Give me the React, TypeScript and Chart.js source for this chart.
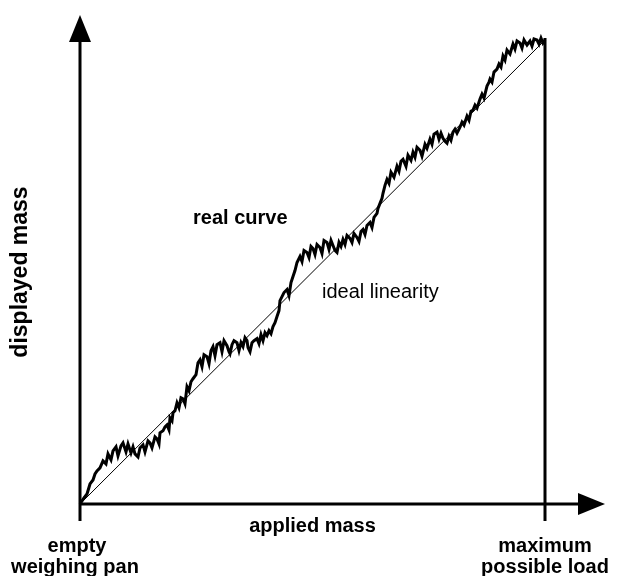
import React, { useEffect, useRef } from "react";
import { Chart, registerables } from "chart.js";

Chart.register(...registerables);

// Applied mass (arbitrary units, 0 = empty pan, 465 = maximum load)
const massApplied = [
  0, 4, 7, 10, 13, 15, 17, 20, 23, 26, 28, 31, 33, 36, 38, 41, 43, 46, 48, 51,
  53, 55, 58, 60, 63, 65, 68, 70, 72, 75, 77, 79, 80, 83, 85, 87, 89, 90, 92, 93,
  95, 97, 99, 101, 103, 105, 107, 109, 111, 113, 116, 118, 120, 122, 124, 127, 129, 131, 133, 135,
  137, 140, 142, 144, 147, 149, 150, 152, 154, 157, 159, 161, 163, 165, 167, 168, 170, 172, 174, 177,
  179, 181, 183, 185, 187, 189, 191, 193, 195, 197, 199, 200, 202, 204, 207, 209, 211, 213, 215, 217,
  220, 222, 224, 227, 229, 231, 233, 235, 237, 240, 242, 244, 247, 249, 251, 253, 255, 257, 259, 261,
  263, 265, 267, 270, 272, 274, 277, 279, 281, 283, 285, 287, 290, 292, 294, 297, 298, 300, 302, 303,
  305, 307, 309, 311, 314, 317, 319, 321, 323, 326, 328, 331, 333, 335, 337, 340, 342, 345, 347, 350,
  352, 354, 357, 359, 361, 363, 365, 367, 369, 371, 373, 375, 377, 380, 382, 384, 387, 389, 391, 393,
  395, 397, 400, 402, 404, 407, 409, 410, 412, 414, 417, 419, 421, 423, 425, 427, 430, 433, 435, 437,
  440, 442, 444, 447, 450, 452, 454, 457, 459, 461, 463, 465,
];

// Displayed mass for the real curve
const massDisplayed = [
  0, 6, 10, 20, 24, 30, 33, 36, 43, 40, 50, 44, 53, 57, 48, 58, 61, 52, 60, 51,
  57, 50, 47, 56, 59, 52, 63, 61, 56, 67, 65, 60, 71, 73, 77, 79, 74, 86, 83, 91,
  93, 101, 96, 106, 105, 100, 117, 113, 122, 125, 129, 141, 144, 137, 149, 147, 140, 153, 157, 148,
  159, 161, 152, 163, 158, 152, 150, 159, 163, 161, 153, 161, 157, 166, 163, 156, 152, 161, 163, 165,
  160, 169, 163, 171, 168, 173, 170, 177, 181, 187, 193, 203, 207, 211, 214, 208, 221, 227, 233, 241,
  247, 242, 253, 251, 246, 257, 255, 249, 259, 256, 250, 263, 261, 254, 263, 258, 253, 251, 261, 257,
  264, 259, 268, 265, 261, 270, 266, 262, 272, 274, 269, 278, 281, 276, 286, 290, 295, 300, 305, 310,
  318, 324, 320, 331, 326, 337, 332, 342, 344, 337, 348, 343, 351, 346, 356, 353, 347, 359, 355, 364,
  359, 369, 371, 364, 370, 365, 362, 360, 367, 363, 371, 374, 370, 376, 381, 378, 387, 383, 392, 393,
  398, 395, 404, 409, 405, 417, 421, 424, 421, 431, 434, 439, 436, 447, 443, 453, 449, 459, 454, 462,
  460, 455, 463, 458, 462, 457, 464, 463, 459, 465, 460, 463,
];

// Ideal linearity: straight line from empty pan to maximum load
const idealApplied = [0, 465];
const idealDisplayed = [0, 463];

const xAxisTitle = "applied mass";
const yAxisTitle = "displayed mass";
const startLabel = ["empty", "weighing pan"];
const endLabel = ["maximum", "possible load"];
const realCurveLabel = "real curve";
const idealLabel = "ideal linearity";

const FONT = "'Liberation Sans', Arial, Helvetica, sans-serif";

const decorPlugin = {
  id: "decor",
  afterDraw(chart: any) {
    const { ctx, chartArea, scales } = chart;
    const { left, bottom } = chartArea;
    const xs = scales.x;
    const ys = scales.y;
    ctx.save();
    ctx.strokeStyle = "#000";
    ctx.fillStyle = "#000";
    ctx.lineWidth = 3;
    ctx.lineCap = "butt";

    // y axis with arrow
    ctx.beginPath();
    ctx.moveTo(left, bottom + 17);
    ctx.lineTo(left, 40);
    ctx.stroke();
    ctx.beginPath();
    ctx.moveTo(left, 15);
    ctx.lineTo(left - 11, 42);
    ctx.lineTo(left + 11, 42);
    ctx.closePath();
    ctx.fill();

    // x axis with arrow
    ctx.beginPath();
    ctx.moveTo(left, bottom);
    ctx.lineTo(582, bottom);
    ctx.stroke();
    ctx.beginPath();
    ctx.moveTo(605, bottom);
    ctx.lineTo(578, bottom - 11);
    ctx.lineTo(578, bottom + 11);
    ctx.closePath();
    ctx.fill();

    // maximum load marker
    const xm = xs.getPixelForValue(idealApplied[1]);
    const ym = ys.getPixelForValue(idealDisplayed[1]);
    ctx.beginPath();
    ctx.moveTo(xm, ym - 2);
    ctx.lineTo(xm, bottom + 17);
    ctx.stroke();

    // texts
    ctx.textBaseline = "middle";
    ctx.textAlign = "center";
    ctx.font = `bold 20px ${FONT}`;
    ctx.fillText(xAxisTitle, (left + xm) / 2, bottom + 22);
    ctx.fillText(startLabel[0], left - 3, bottom + 42);
    ctx.fillText(startLabel[1], left - 5, bottom + 63);
    ctx.fillText(endLabel[0], xm, bottom + 42);
    ctx.fillText(endLabel[1], xm, bottom + 63);

    ctx.save();
    ctx.font = `bold 23px ${FONT}`;
    ctx.translate(21, (chartArea.top + bottom) / 2);
    ctx.rotate(-Math.PI / 2);
    ctx.fillText(yAxisTitle, 0, 0);
    ctx.restore();

    ctx.textAlign = "left";
    ctx.fillText(realCurveLabel, 193, 218);
    ctx.font = `20px ${FONT}`;
    ctx.fillText(idealLabel, 322, 292);
    ctx.restore();
  },
};

export default function App() {
  const canvasRef = useRef<HTMLCanvasElement | null>(null);

  useEffect(() => {
    if (!canvasRef.current) return;
    const realPoints = massApplied.map((v, i) => ({ x: v, y: massDisplayed[i] }));
    const idealPoints = idealApplied.map((v, i) => ({ x: v, y: idealDisplayed[i] }));
    const chart = new Chart(canvasRef.current, {
      type: "scatter",
      data: {
        datasets: [
          {
            label: realCurveLabel,
            data: realPoints,
            showLine: true,
            borderColor: "#000",
            borderWidth: 3,
            pointRadius: 0,
            tension: 0,
            clip: false,
            order: 0,
          } as any,
          {
            label: idealLabel,
            data: idealPoints,
            showLine: true,
            borderColor: "#000",
            borderWidth: 1,
            pointRadius: 0,
            clip: false,
            order: 1,
          } as any,
        ],
      },
      options: {
        animation: false,
        responsive: false,
        events: [],
        layout: { padding: { left: 80, right: 74, top: 40, bottom: 72 } },
        plugins: { legend: { display: false }, tooltip: { enabled: false } },
        scales: {
          x: { type: "linear", min: 0, max: 465, display: false },
          y: { type: "linear", min: 0, max: 463, display: false },
        },
      },
      plugins: [decorPlugin],
    });
    return () => chart.destroy();
  }, []);

  return (
    <div style={{ position: "fixed", left: 0, top: 0, width: 619, height: 576, background: "#fff" }}>
      <canvas ref={canvasRef} width={619} height={576} style={{ display: "block" }} />
    </div>
  );
}
